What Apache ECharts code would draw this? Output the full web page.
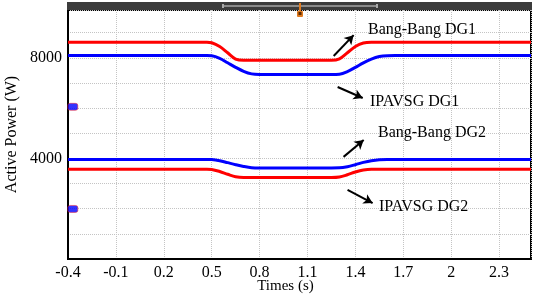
<!DOCTYPE html>
<html>
<head>
<meta charset="utf-8">
<script src="https://cdn.jsdelivr.net/npm/echarts@6/dist/echarts.min.js"></script>
<style>
html, body { margin: 0; padding: 0; background: #fff; }
#chart { width: 533px; height: 298px; }
</style>
</head>
<body>
<div id="chart"></div>
<script>
// time samples (s)
var times = [-0.4, 0.47, 0.5, 0.55, 0.6, 0.65, 0.7, 0.75, 0.8, 1.25, 1.3, 1.35, 1.4, 1.45, 1.5, 1.55, 1.6, 1.65, 2.5];

// active power (W)
var bangDG1 = [8620, 8620, 8600, 8450, 8200, 7950, 7900, 7900, 7900, 7900, 7960, 8200, 8450, 8590, 8620, 8620, 8620, 8620, 8620];
var ipaDG1 = [8090, 8090, 8080, 7980, 7800, 7620, 7460, 7360, 7340, 7340, 7350, 7450, 7620, 7800, 7950, 8050, 8085, 8090, 8090];
var bangDG2 = [3960, 3960, 3955, 3910, 3830, 3750, 3680, 3630, 3620, 3620, 3625, 3670, 3750, 3840, 3910, 3950, 3960, 3960, 3960];
var ipaDG2 = [3570, 3570, 3560, 3480, 3370, 3270, 3240, 3240, 3240, 3240, 3260, 3350, 3460, 3540, 3570, 3570, 3570, 3570, 3570];

// markers on the left edge
var markerTimes = [-0.37, -0.37];
var markerValues = [6050, 1990];

// y tick labels shown
var yLabels = [4000, 8000];

// annotation arrows [from, to] in (s, W)
var arrows = [
	[[1.264, 8070], [1.389, 8900]],
	[[1.289, 6840], [1.446, 6400]],
	[[1.326, 4060], [1.452, 4730]],
	[[1.351, 2745], [1.508, 2225]]
];
var arrowTexts = ['Bang-Bang DG1', 'IPAVSG DG1', 'Bang-Bang DG2', 'IPAVSG DG2'];
var textPos = [[368, 30], [370, 102], [378, 133], [379, 207]];

function pairs(xs, ys) {
	var out = [];
	for (var i = 0; i < xs.length; i++) {
		out.push([xs[i], ys[i]]);
	}
	return out;
}

var serif = '"Liberation Serif", "Times New Roman", serif';

function lineSeries(name, vals, color) {
	return {
		name: name,
		type: 'line',
		data: pairs(times, vals),
		smooth: 0.35,
		showSymbol: false,
		lineStyle: { color: color, width: 3 },
		z: 3
	};
}

var arrowLines = [];
for (var i = 0; i < arrows.length; i++) {
	arrowLines.push([{ coord: arrows[i][0] }, { coord: arrows[i][1] }]);
}

var graphics = [
	// top toolbar strip
	{ type: 'rect', shape: { x: 67, y: 2, width: 465, height: 8 }, style: { fill: '#3c3c3c' }, z: 100 },
	{ type: 'rect', shape: { x: 223, y: 5, width: 154, height: 2 }, style: { fill: '#8a8a8a' }, z: 101 },
	{ type: 'rect', shape: { x: 222, y: 4, width: 2, height: 4 }, style: { fill: '#aaa' }, z: 101 },
	{ type: 'rect', shape: { x: 376, y: 4, width: 2, height: 4 }, style: { fill: '#aaa' }, z: 101 },
	{ type: 'rect', shape: { x: 299, y: 3, width: 2, height: 8 }, style: { fill: '#e07a1f' }, z: 102 },
	{ type: 'rect', shape: { x: 297, y: 11, width: 6, height: 6, r: 1 }, style: { fill: '#e07a1f' }, z: 102 },
	{ type: 'rect', shape: { x: 298.5, y: 12, width: 3, height: 3 }, style: { fill: '#5a2a00' }, z: 103 }
];
for (var k = 0; k < arrowTexts.length; k++) {
	graphics.push({
		type: 'text',
		x: textPos[k][0],
		y: textPos[k][1],
		style: {
			text: arrowTexts[k],
			font: '16px ' + serif,
			fill: '#000',
			verticalAlign: 'middle'
		},
		z: 50
	});
}

var chart = echarts.init(document.getElementById('chart'));
chart.setOption({
	animation: false,
	grid: {
		left: 68, right: 2, top: 10, bottom: 39,
		outerBoundsMode: 'none',
		containLabel: false,
		show: true, borderColor: '#000', borderWidth: 2
	},
	xAxis: {
		type: 'value',
		min: -0.4,
		max: 2.5,
		interval: 0.3,
		name: 'Times (s)',
		nameLocation: 'middle',
		nameGap: 20,
		nameMoveOverlap: false,
		nameTextStyle: { fontFamily: serif, fontSize: 15, color: '#000', padding: [0, 28, 0, 0] },
		axisLine: { onZero: false, lineStyle: { color: '#000', width: 2 } },
		axisTick: { show: false },
		axisLabel: {
			fontFamily: serif, fontSize: 16, color: '#000', margin: 6,
			formatter: function(v) {
				var n = (v + 0.4) / 0.3;
				if (Math.abs(n - Math.round(n)) > 0.01 || v > 2.45) return '';
				return '' + (+v.toFixed(1));
			}
		},
		splitLine: { show: true, lineStyle: { type: 'dotted', color: '#c4c4c4', width: 1 } }
	},
	yAxis: {
		type: 'value',
		min: 0,
		max: 9900,
		interval: 1000,
		name: 'Active Power (W)',
		nameLocation: 'middle',
		nameGap: 48,
		nameMoveOverlap: false,
		nameTextStyle: { fontFamily: serif, fontSize: 16, color: '#000' },
		axisLine: { show: true, onZero: false, lineStyle: { color: '#000', width: 2 } },
		axisTick: { show: false },
		axisLabel: {
			fontFamily: serif, fontSize: 16, color: '#000', margin: 6,
			formatter: function(v) {
				return yLabels.indexOf(v) >= 0 ? '' + v : '';
			}
		},
		splitLine: { show: true, lineStyle: { type: 'dotted', color: '#c4c4c4', width: 1 } }
	},
	series: [
		lineSeries('Bang-Bang DG1', bangDG1, '#ff0000'),
		lineSeries('IPAVSG DG1', ipaDG1, '#0000ff'),
		lineSeries('Bang-Bang DG2', bangDG2, '#0000ff'),
		lineSeries('IPAVSG DG2', ipaDG2, '#ff0000'),
		{
			name: 'markers',
			type: 'scatter',
			data: pairs(markerTimes, markerValues),
			symbol: 'roundRect',
			symbolSize: [10, 7],
			itemStyle: { color: '#0000ff', borderColor: '#ff2020', borderWidth: 0.6 },
			z: 4
		},
		{
			name: 'arrows',
			type: 'line',
			data: [],
			markLine: {
				silent: true,
				symbol: ['none', 'arrow'],
				symbolSize: [8, 9],
				label: { show: false },
				lineStyle: { color: '#000', width: 2, type: 'solid' },
				data: arrowLines
			}
		}
	],
	graphic: graphics
});
</script>
</body>
</html>
